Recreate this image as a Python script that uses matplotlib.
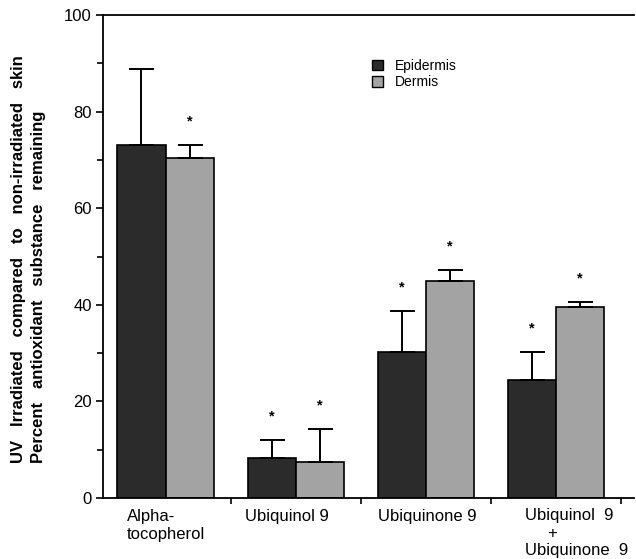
import numpy as np
import matplotlib
import matplotlib.pyplot as plt
from matplotlib.patches import Patch
matplotlib.use('Agg')

plt.rcParams['font.family'] = ['Liberation Sans', 'DejaVu Sans']

groups = ["Alpha-\ntocopherol", "Ubiquinol 9", "Ubiquinone 9",
          "Ubiquinol  9\n     +\nUbiquinone  9"]
series = ["Epidermis", "Dermis"]
epidermis = [73.2, 8.3, 30.2, 24.4]
epidermis_err = [15.7, 3.8, 8.5, 5.8]
dermis = [70.5, 7.5, 45.0, 39.5]
dermis_err = [2.7, 6.8, 2.2, 1.1]
epidermis_star = [False, True, True, True]
dermis_star = [True, True, True, True]

fig = plt.figure(figsize=(6.36, 5.59), dpi=100)
ax = fig.add_axes([0.162, 0.109, 0.835, 0.864])

x = np.arange(len(groups))
w = 0.37
err_kw = dict(ecolor="black", elinewidth=1.4, capsize=9, capthick=1.4)

ax.bar(x - w/2, epidermis, w, color="#2b2b2b", edgecolor="black", linewidth=1.2,
       yerr=[np.zeros(4), epidermis_err], error_kw=err_kw, label=series[0])
ax.bar(x + w/2, dermis, w, color="#a3a3a3", edgecolor="black", linewidth=1.2,
       yerr=[np.zeros(4), dermis_err], error_kw=err_kw, label=series[1])

# significance stars above the error bars
for i in range(len(groups)):
    if epidermis_star[i]:
        ax.text(x[i] - w/2, epidermis[i] + epidermis_err[i] + 3.4, "*", ha="center",
                va="bottom", fontsize=10.5, fontweight="bold")
    if dermis_star[i]:
        ax.text(x[i] + w/2, dermis[i] + dermis_err[i] + 3.4, "*", ha="center",
                va="bottom", fontsize=10.5, fontweight="bold")

ax.set_xlim(-0.48, 3.6)
ax.set_ylim(0, 100)
ax.set_yticks([0, 20, 40, 60, 80, 100])
ax.set_yticks([10, 30, 50, 70, 90], minor=True)
ax.set_xticks(x + 0.5)
ax.set_xticklabels([])
ax.tick_params(axis="y", labelsize=12, width=1.2, length=5, pad=3)
ax.tick_params(axis="y", which="minor", width=1.2, length=4)
ax.tick_params(axis="x", width=1.2, length=4)
for s in ["left", "bottom", "top"]:
    ax.spines[s].set_linewidth(1.3)
ax.spines["right"].set_visible(False)

# category labels under the bars
ax.text(-0.296, -2.2, groups[0], ha="left", va="top", fontsize=12, linespacing=1.3)
ax.text(0.93, -2.2, groups[1], ha="center", va="top", fontsize=12)
ax.text(2.01, -2.2, groups[2], ha="center", va="top", fontsize=12)
ax.text(2.764, -2.1, groups[3], ha="left", va="top", fontsize=12, linespacing=1.2)

# two-line y label, bottom aligned like the original
fig.text(19 / 636, 1 - 463 / 559, "UV   Irradiated   compared   to   non-irradiated   skin",
         rotation=90, ha="center", va="bottom", fontsize=12, fontweight="bold")
fig.text(39 / 636, 1 - 463 / 559, "Percent   antioxidant   substance   remaining",
         rotation=90, ha="center", va="bottom", fontsize=12, fontweight="bold")

handles = [Patch(facecolor="#2b2b2b", edgecolor="black"),
           Patch(facecolor="#a3a3a3", edgecolor="black")]
ax.legend(handles, series, loc="upper left", bbox_to_anchor=(0.482, 0.935),
          frameon=False, fontsize=10, handlelength=0.8, handleheight=0.8,
          handletextpad=0.9, labelspacing=0.15)

plt.savefig("out.png", dpi=100)
plt.close(fig)
